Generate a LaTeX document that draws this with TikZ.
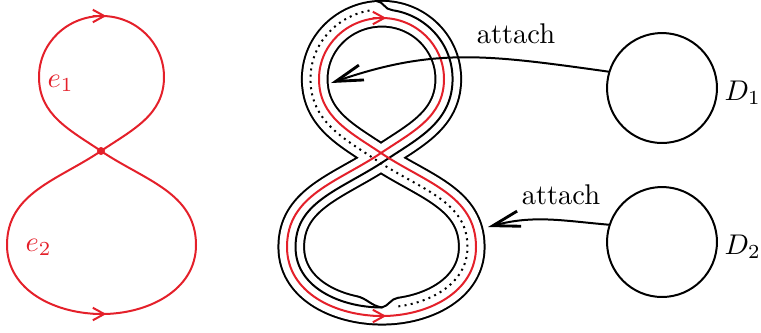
\documentclass[tikz,border=0pt]{standalone}
\usepackage{amsmath, amssymb}
\usepackage{tikz}
\usetikzlibrary{arrows.meta, positioning, calc, decorations}
\usepackage{xcolor}
\definecolor{loopred}{HTML}{E4202A}

\pgfdeclaredecoration{sideline}{initial}{
  \state{initial}[width=0.4pt, next state=main]{\pgfpathmoveto{\pgfpointorigin}}
  \state{main}[width=0.4pt]{\pgfpathlineto{\pgfpointorigin}}
  \state{final}{\pgfpathlineto{\pgfpointorigin}}
}

\newcommand{\eightrise}{to[out=180,in=270] (-94,-94) to[out=90,in=214] (0,0) to[out=34,in=270] (63,74) to[out=90,in=0] (1,135)}
\newcommand{\eightfall}{to[out=180,in=90] (-62,74) to[out=270,in=146] (0,0) to[out=-34,in=90] (95,-94) to[out=270,in=0] (1,-163)}

\begin{document}
\begin{tikzpicture}[x=0.351pt, y=0.351pt,
    line cap=round, line join=round,
    wire/.style={line width=0.7pt},
    redline/.style={draw=loopred, line width=0.7pt},
    looptip/.style={-{Straight Barb[length=4pt, width=4.4pt]}},
    attachtip/.style={-{Straight Barb[length=9.5pt, width=5.5pt, line width=1pt]}},
    shiftline/.style={decorate, decoration={sideline, raise=#1}},
    disk/.style={circle, draw, line width=0.7pt, minimum size=38.6pt, inner sep=0pt},
    backline/.style={dash pattern=on 0.7pt off 1.5pt, line cap=butt},
    eraser/.style={fill=white, draw=none}]
\useasboundingbox (0,0) rectangle (761,-332);

\begin{scope}[shift={(101,-151)}]
  \coordinate (lmid) at (0,0);
  \coordinate (ltop) at (1,135);
  \coordinate (lbot) at (1,-163);
  \draw[redline] (lbot) \eightrise \eightfall;
  \draw[redline, looptip] ([xshift=-3pt]ltop) -- ([xshift=1.5pt]ltop);
  \draw[redline, looptip] ([xshift=-3pt]lbot) -- ([xshift=1.5pt]lbot);
  \fill[loopred] (lmid) circle (1.4pt);
\end{scope}
\node[text=loopred, anchor=base west, inner sep=0pt] (e1lab) at (47,-87) {$e_1$};
\node[text=loopred, anchor=base west, inner sep=0pt] (e2lab) at (25,-251) {$e_2$};

\begin{scope}[shift={(381,-153)}]
  \coordinate (mmid) at (0,0);
  \coordinate (mtop) at (1,135);
  \coordinate (mbot) at (1,-163);
  \draw[line width=9.7pt, shiftline=-1.5pt] (mbot) \eightrise \eightfall;
  \draw[white, line width=8.3pt, shiftline=-1.5pt] (mbot) \eightrise \eightfall;
  \draw[wire, shiftline=-3pt] (mbot) \eightrise;
  \draw[wire, backline, shiftline=-3pt] (mtop) \eightfall;
  \fill[eraser] ($(mtop)+(-3.5pt,1.8pt)$) rectangle ($(mtop)+(3.5pt,4.2pt)$);
  \draw[wire] ($(mtop)+(3.5pt,2.8pt)$) to[out=180,in=0] ($(mtop)+(-2pt,5.95pt)$);
  \fill[eraser] ($(mbot)+(-9pt,5pt)$) rectangle ($(mbot)+(5.6pt,8pt)$);
  \fill[eraser] ($(mbot)+(0.3pt,1.8pt)$) rectangle ($(mbot)+(5pt,4.2pt)$);
  \draw[wire] ($(mbot)+(-9pt,7pt)$) to[out=-12,in=172] ($(mbot)+(0,3pt)$)
    to[out=15,in=188] ($(mbot)+(5.6pt,6.4pt)$);
  \draw[redline] (mbot) \eightrise \eightfall;
  \draw[redline, looptip] ([xshift=-3pt]mtop) -- ([xshift=1.5pt]mtop);
  \draw[redline, looptip] ([xshift=-3pt]mbot) -- ([xshift=1.5pt]mbot);
\end{scope}

\node[disk] (d1) at (662,-88) {};
\node[disk] (d2) at (662,-242) {};
\node[anchor=base west, inner sep=0pt] (d1lab) at ($(d1.east)+(6,-12)$) {$D_1$};
\node[anchor=base west, inner sep=0pt] (d2lab) at ($(d2.east)+(6,-12)$) {$D_2$};

\coordinate (tip1) at (331,-83);
\coordinate (tip2) at (488,-227);
\draw[wire, attachtip] (d1.163) to[out=172,in=19, out looseness=1.15] (tip1);
\draw[wire, attachtip] (d2.162) to[out=175,in=15] (tip2);
\node[anchor=base] (att1) at (516,-43) {attach};
\node[anchor=base] (att2) at (561,-204) {attach};
\end{tikzpicture}
\end{document}
